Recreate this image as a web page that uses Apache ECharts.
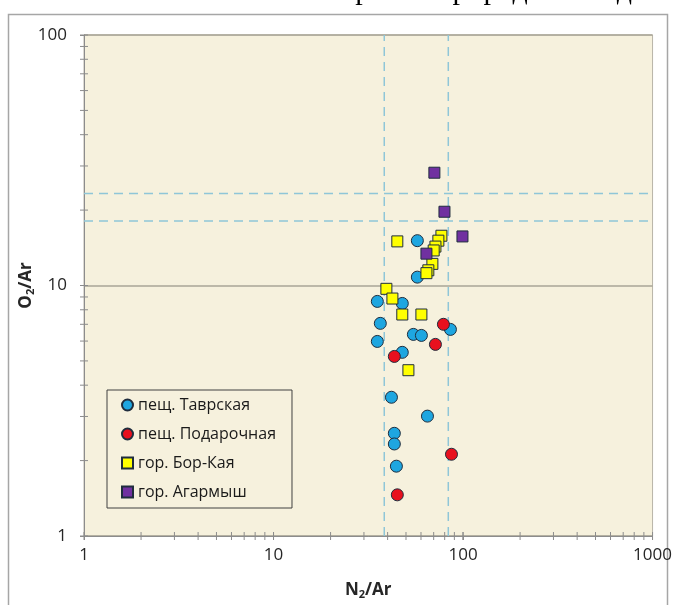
<!DOCTYPE html>
<html>
<head>
<meta charset="utf-8">
<script src="https://cdn.jsdelivr.net/npm/echarts@6/dist/echarts.min.js"></script>
<style>
  html, body { margin: 0; padding: 0; background: #ffffff; }
  #chart { width: 675px; height: 605px; }
</style>
</head>
<body>
<div id="chart"></div>
<script>
// Sample ratios: [N2/Ar, O2/Ar]
const tavrskaya = [
  [57.4, 15.1], [57.4, 10.8], [35.3, 8.64], [47.8, 8.48], [36.6, 7.06],
  [85.8, 6.68], [54.7, 6.38], [60.3, 6.32], [35.3, 5.98], [47.8, 5.41],
  [41.9, 3.58], [64.9, 3.01], [43.4, 2.57], [43.4, 2.33], [44.5, 1.90]
];
const podarochnaya = [
  [78.8, 7.0], [71.5, 5.82], [43.4, 5.21], [86.9, 2.12], [45.0, 1.46]
];
const borKaya = [
  [45.0, 15.0], [76.9, 15.8], [74.1, 15.1], [71.5, 14.3], [70.0, 13.8],
  [68.9, 12.2], [65.6, 11.5], [64.1, 11.2], [39.4, 9.7], [42.4, 8.87],
  [47.8, 7.66], [60.3, 7.66], [51.5, 4.59]
];
const agarmysh = [
  [70.6, 28.2], [79.8, 19.7], [99.3, 15.7], [64.1, 13.4]
];

const seriesNames = ['пещ. Тавpская', 'пещ. Подарочная', 'гор. Бор-Кая', 'гор. Агармыш'];
const seriesColors = ['#1ea6e0', '#e8101e', '#ffff00', '#7030a0'];
const seriesSymbols = ['circle', 'circle', 'rect', 'rect'];

// Reference levels (dashed guide lines)
const refN2Ar = [38.4, 83.6];
const refO2Ar = [18.1, 23.3];

// Axis ranges and labelled ticks
const xRange = [1, 1000];
const yRange = [1, 100];
const xTickLabels = ['1', '10', '100', '1000'];
const yTickLabels = ['1', '10', '100'];

const chart = echarts.init(document.getElementById('chart'), null, { renderer: 'canvas' });

const labelFont = '"Open Sans", "Liberation Sans", sans-serif';
const guideStyle = { color: '#8fc6d8', width: 1.5, type: [9, 6] };

const guideSeries = [];
refN2Ar.forEach(v => guideSeries.push({
  type: 'line', silent: true, symbol: 'none', z: 1,
  data: [[v, yRange[0]], [v, yRange[1]]], lineStyle: guideStyle
}));
refO2Ar.forEach(v => guideSeries.push({
  type: 'line', silent: true, symbol: 'none', z: 1,
  data: [[xRange[0], v], [xRange[1], v]], lineStyle: guideStyle
}));

const dataSets = [tavrskaya, podarochnaya, borKaya, agarmysh];
const scatterSeries = dataSets.map((d, i) => ({
  name: seriesNames[i],
  type: 'scatter',
  data: d,
  symbol: seriesSymbols[i],
  symbolSize: seriesSymbols[i] === 'rect' ? 11 : 12,
  z: 3,
  itemStyle: { color: seriesColors[i], borderColor: '#1f2d3d', borderWidth: 1, opacity: 1 }
}));

const nameRich = {
  b: { fontFamily: labelFont, fontWeight: 'bold', fontSize: 17, color: '#262626' },
  s: { fontFamily: labelFont, fontWeight: 'bold', fontSize: 11, color: '#262626', padding: [9, 0, 0, 0] }
};

chart.setOption({
  animation: false,
  backgroundColor: '#ffffff',
  grid: {
    left: 84, right: 20, top: 35, bottom: 66,
    show: true, backgroundColor: '#f6f1dd', borderColor: '#b8b4a8', borderWidth: 1
  },
  xAxis: {
    type: 'log', logBase: 10, min: xRange[0], max: xRange[1],
    name: '{b|N}{s|2}{b|/Ar}',
    nameLocation: 'middle', nameGap: 44, nameMoveOverlap: false,
    nameTextStyle: { rich: nameRich },
    axisLine: { show: true, lineStyle: { color: '#8c8c8c', width: 1 } },
    axisTick: { show: true, inside: false, length: 4, lineStyle: { color: '#8c8c8c' } },
    axisLabel: {
      fontFamily: labelFont, fontSize: 17, color: '#262626', margin: 11,
      formatter: v => xTickLabels.find(t => Number(t) === Math.round(v)) || ''
    },
    splitLine: { show: false }
  },
  yAxis: {
    type: 'log', logBase: 10, min: yRange[0], max: yRange[1],
    name: '{b|O}{s|2}{b|/Ar}',
    nameLocation: 'middle', nameGap: 48, nameRotate: 90, nameMoveOverlap: false,
    nameTextStyle: { rich: nameRich },
    axisLine: { show: true, lineStyle: { color: '#8c8c8c', width: 1 } },
    axisTick: { show: true, inside: false, length: 4, lineStyle: { color: '#8c8c8c' } },
    axisLabel: {
      fontFamily: labelFont, fontSize: 17, color: '#262626', margin: 17,
      formatter: v => yTickLabels.find(t => Number(t) === Math.round(v)) || ''
    },
    splitLine: { show: true, lineStyle: { color: '#a8a496', width: 1.5 } }
  },
  legend: {
    orient: 'vertical', left: 107, top: 390,
    data: seriesNames,
    itemWidth: 11, itemHeight: 11, itemGap: 13,
    padding: [7, 16, 8, 14],
    borderColor: '#404040', borderWidth: 1,
    backgroundColor: '#f6f1dd',
    textStyle: { fontFamily: labelFont, fontSize: 16, color: '#1a1a1a' }
  },
  series: guideSeries.concat(scatterSeries)
});

// Minor log ticks (2..9 in each decade) crossing both axis lines, plus outer frame
function decorations() {
  const els = [];
  const x0 = chart.convertToPixel({ xAxisIndex: 0 }, xRange[0]);
  const y0 = chart.convertToPixel({ yAxisIndex: 0 }, yRange[0]);
  for (let d = xRange[0]; d < xRange[1]; d *= 10) {
    for (let k = 1; k <= 10; k++) {
      const px = chart.convertToPixel({ xAxisIndex: 0 }, d * k);
      els.push({ type: 'line', silent: true, z: 5,
        shape: { x1: px, y1: y0 - 4, x2: px, y2: y0 + 4 },
        style: { stroke: '#8c8c8c', lineWidth: 1 } });
    }
  }
  for (let d = yRange[0]; d < yRange[1]; d *= 10) {
    for (let k = 1; k <= 10; k++) {
      const py = chart.convertToPixel({ yAxisIndex: 0 }, d * k);
      els.push({ type: 'line', silent: true, z: 5,
        shape: { x1: x0 - 4, y1: py, x2: x0 + 4, y2: py },
        style: { stroke: '#8c8c8c', lineWidth: 1 } });
    }
  }
  // frame around the figure
  els.push({ type: 'rect', silent: true, z: 0,
    shape: { x: 8.5, y: 14.5, width: 659, height: 600 },
    style: { fill: null, stroke: '#a6a6a6', lineWidth: 1.5 } });
  // lower edge of the preceding line of text
  els.push({ type: 'text', silent: true, z: 0, left: 60, top: -24,
    style: { text: 'Соотношения газов в пробах природных подземных вод',
      font: '30px "Liberation Serif", serif', fill: '#000000' } });
  chart.setOption({ graphic: els });
}
decorations();
</script>
</body>
</html>
